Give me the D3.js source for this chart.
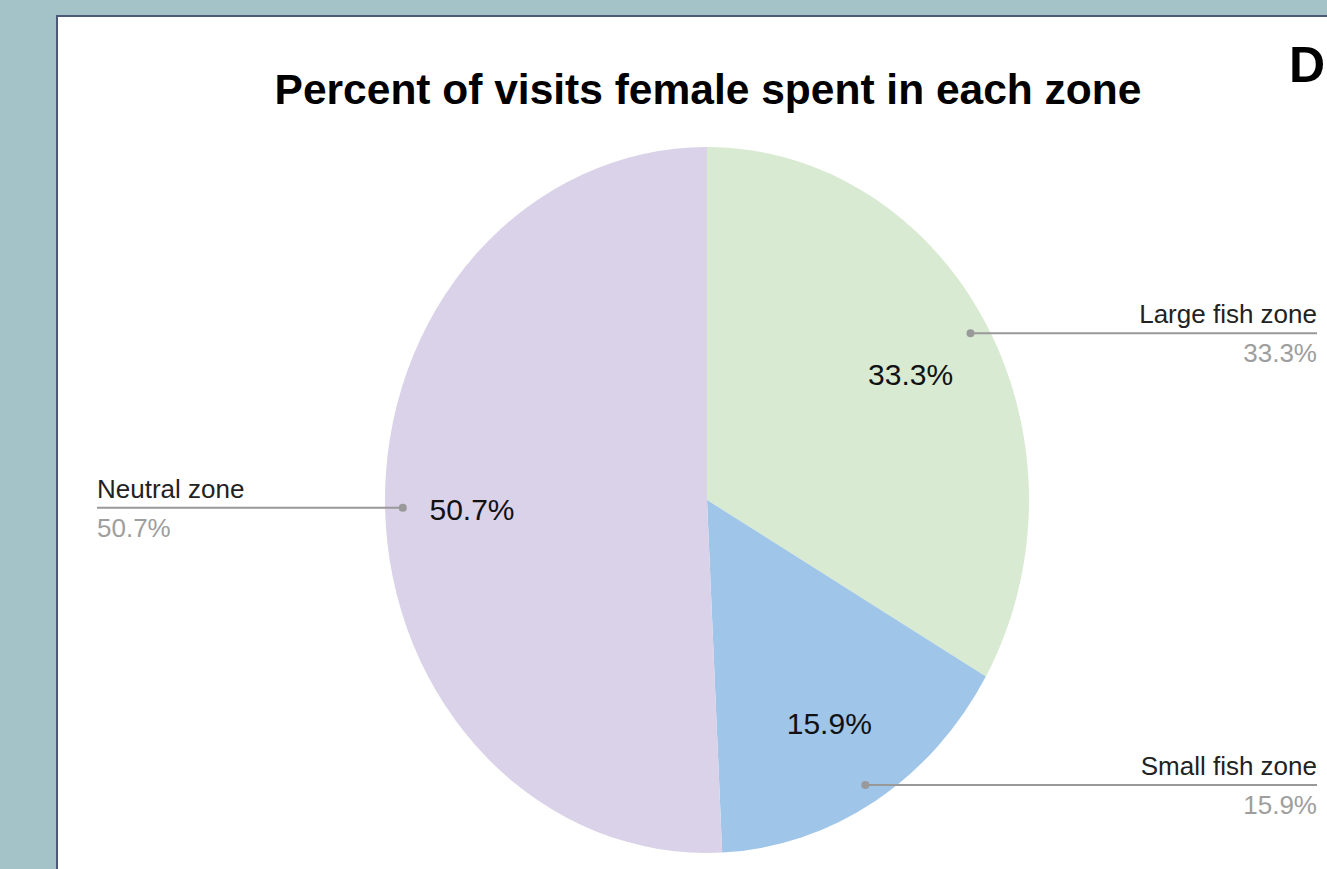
<!DOCTYPE html>
<html>
<head>
<meta charset="utf-8">
<script src="https://cdn.jsdelivr.net/npm/d3@7"></script>
<style>
  html, body { margin: 0; padding: 0; background: #a3c3c8; }
  svg { display: block; }
  text { font-family: "Liberation Sans", Arial, sans-serif; }
</style>
</head>
<body>
<svg id="chart" width="1327" height="869"></svg>
<script>
const title = "Percent of visits female spent in each zone";
const categories = ["Large fish zone", "Small fish zone", "Neutral zone"];
const values = [33.3, 15.9, 50.7];
const colors = ["#d9ead3", "#9fc5e8", "#d9d2e9"];
const labelSides = ["right", "right", "left"];

const W = 1327, H = 869;
const svg = d3.select("#chart");

// background panel
svg.append("rect").attr("x", 0).attr("y", 0).attr("width", W).attr("height", H).attr("fill", "#a3c3c8");
svg.append("rect").attr("x", 57).attr("y", 16).attr("width", W).attr("height", H)
  .attr("fill", "#ffffff").attr("stroke", "#4c5a78").attr("stroke-width", 2);

// title
svg.append("text").attr("x", 708).attr("y", 104).attr("text-anchor", "middle")
  .attr("font-size", 42.5).attr("font-weight", "bold").attr("fill", "#000").text(title);

// "D" at the top right
svg.append("text").attr("x", 1289).attr("y", 82).attr("font-size", 50)
  .attr("font-weight", "bold").attr("fill", "#000").text("D");

const cx = 707, cy = 500, ry = 353, rx = 322;
const sx = rx / ry;

const pie = d3.pie().sort(null).value(d => d.value);
const data = categories.map((c, i) => ({ name: c, value: values[i], color: colors[i], side: labelSides[i] }));
const arcs = pie(data);

const arc = d3.arc().innerRadius(0).outerRadius(ry);
const g = svg.append("g").attr("transform", `translate(${cx},${cy}) scale(${sx},1)`);
g.selectAll("path").data(arcs).join("path")
  .attr("d", arc).attr("fill", d => d.data.color);

const fmt = v => v.toFixed(1) + "%";

// inner labels
const innerArc = d3.arc().innerRadius(ry * 0.73).outerRadius(ry * 0.73);
arcs.forEach(a => {
  const [x, y] = innerArc.centroid(a);
  svg.append("text").attr("x", cx + x * sx).attr("y", cy + y + 3)
    .attr("text-anchor", "middle").attr("dominant-baseline", "central")
    .attr("font-size", 30).attr("fill", "#111").text(fmt(a.data.value));
});

// outer leader labels
const dotArc = d3.arc().innerRadius(ry * 0.945).outerRadius(ry * 0.945);
arcs.forEach(a => {
  const [x, y] = dotArc.centroid(a);
  const px = cx + x * sx, py = cy + y;
  const right = a.data.side === "right";
  const endX = right ? 1317 : 97;
  svg.append("line").attr("x1", px).attr("y1", py).attr("x2", endX).attr("y2", py)
    .attr("stroke", "#999").attr("stroke-width", 2);
  svg.append("circle").attr("cx", px).attr("cy", py).attr("r", 4).attr("fill", "#999");
  svg.append("text").attr("x", endX).attr("y", py - 10)
    .attr("text-anchor", right ? "end" : "start")
    .attr("font-size", 26).attr("fill", "#222").text(a.data.name);
  svg.append("text").attr("x", endX).attr("y", py + 29)
    .attr("text-anchor", right ? "end" : "start")
    .attr("font-size", 26).attr("fill", "#9e9e9e").text(fmt(a.data.value));
});
</script>
</body>
</html>
